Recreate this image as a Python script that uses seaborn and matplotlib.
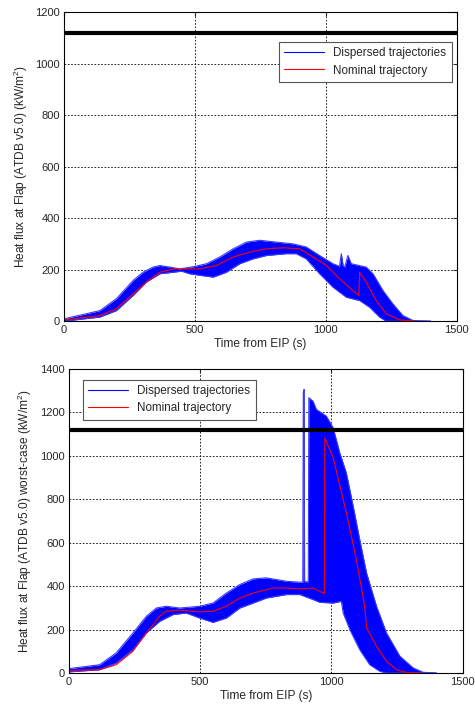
import numpy as np
import pandas as pd
import matplotlib
matplotlib.use('Agg')
import matplotlib.pyplot as plt
import seaborn as sns
from matplotlib.lines import Line2D

# nominal trajectory, top panel
t_nom1 = [0, 137, 200, 264, 315, 366, 417, 519, 582, 646, 709, 773, 836, 900, 951,
          1002, 1052, 1103, 1126, 1129, 1154, 1192, 1230, 1281, 1340]
q_nom1 = [5, 22, 48, 106, 152, 190, 203, 203, 216, 249, 268, 281, 285, 281, 249,
          216, 165, 119, 100, 190, 152, 80, 29, 5, 0]

# dispersed envelope, top panel
t_up1 = [0, 137, 200, 264, 302, 340, 366, 404, 442, 497, 544, 595, 646, 697, 747, 811,
         875, 925, 976, 1027, 1052, 1059, 1066, 1072, 1084, 1097, 1154, 1180, 1218, 1256,
         1294, 1332, 1400]
q_up1 = [9, 41, 87, 158, 190, 210, 216, 210, 203, 212, 223, 249, 281, 307, 314, 307,
         300, 288, 255, 223, 213, 262, 215, 210, 255, 223, 210, 184, 119, 67,
         22, 3, 0]
t_lo1 = [0, 137, 200, 264, 315, 366, 417, 449, 480, 519, 570, 620, 671, 722, 773, 849,
         887, 925, 976, 1027, 1078, 1129, 1167, 1205, 1230, 1400]
q_lo1 = [0, 16, 41, 100, 152, 184, 190, 194, 184, 178, 171, 190, 223, 242, 255, 262,
         262, 242, 184, 132, 93, 80, 54, 16, 0, 0]

# nominal trajectory, bottom panel (worst-case)
t_nom2 = [0, 117, 180, 244, 295, 346, 371, 422, 498, 549, 600, 651, 702, 778, 829, 880,
          930, 973, 975, 1007, 1057, 1095, 1127, 1134, 1172, 1210, 1248, 1286, 1340]
q_nom2 = [12, 15, 38, 100, 184, 261, 284, 289, 281, 284, 307, 345, 368, 391, 391, 387,
          391, 365, 1082, 990, 737, 522, 307, 207, 123, 54, 15, 2, 0]

# dispersed envelope, bottom panel
t_up2 = [0, 117, 180, 244, 295, 333, 371, 422, 498, 549, 600, 651, 702, 752, 829, 880,
         891, 893, 896, 898, 912, 914, 930, 943, 981, 1007, 1032, 1057, 1083, 1108,
         1134, 1172, 1210, 1261, 1312, 1350, 1400]
q_up2 = [20, 38, 92, 184, 261, 299, 307, 299, 307, 322, 368, 407, 433, 438, 422, 418,
         418, 1290, 1305, 420, 420, 1267, 1251, 1213, 1182, 1128, 1013, 921, 768, 614,
         460, 307, 184, 77, 23, 3, 0]
t_lo2 = [0, 117, 180, 244, 295, 346, 397, 447, 498, 549, 600, 651, 702, 752, 829, 880,
         930, 956, 1007, 1038, 1045, 1070, 1108, 1146, 1184, 1210, 1400]
q_lo2 = [5, 15, 46, 107, 184, 238, 269, 276, 253, 233, 253, 299, 322, 345, 361, 361,
         338, 325, 322, 330, 276, 200, 107, 38, 8, 0, 0]

q_limit = 1120

sns.set_style('white')
plt.rcParams['font.family'] = ['Liberation Sans', 'DejaVu Sans']
plt.rcParams['mathtext.default'] = 'regular'

fig = plt.figure(figsize=(4.75, 7.09), dpi=100, facecolor='white')
ax1 = fig.add_axes([0.1347, 0.547, 0.827, 0.436])
ax2 = fig.add_axes([0.145, 0.0508, 0.829, 0.429])


def draw(ax, t_up, q_up, t_lo, q_lo, t_nom, q_nom, ymax, ylab, leg_loc, leg_anchor):
    grid = np.union1d(t_up, t_lo)
    up = np.interp(grid, t_up, q_up)
    lo = np.interp(grid, t_lo, q_lo)
    ax.fill_between(grid, lo, up, color='#0000ff', lw=0, zorder=2)
    ax.plot(t_up, q_up, color='#3a3aff', lw=0.8, zorder=2)
    ax.plot(t_lo, q_lo, color='#3a3aff', lw=0.8, zorder=2)
    nom = pd.DataFrame({'t': t_nom, 'q': q_nom})
    sns.lineplot(data=nom, x='t', y='q', color='red', lw=0.8, ax=ax, sort=False, zorder=3)
    ax.axhline(q_limit, color='black', lw=3, zorder=5)
    ax.set_xlim(0, 1500)
    ax.set_ylim(0, ymax)
    ax.set_xticks([0, 500, 1000, 1500])
    ax.set_yticks(np.arange(0, ymax + 1, 200))
    ax.grid(True, color='black', linestyle=(0, (2, 2)), lw=0.6)
    ax.set_axisbelow(True)
    ax.tick_params(direction='in', length=3, top=True, right=True, labelsize=8, pad=3)
    for s in ax.spines.values():
        s.set_color('black')
        s.set_linewidth(0.8)
        s.set_zorder(6)
    ax.set_xlabel('Time from EIP (s)', fontsize=8.6, labelpad=2)
    ax.set_ylabel(ylab, fontsize=8.6, labelpad=4)
    handles = [Line2D([], [], color='#0000ff', lw=0.8), Line2D([], [], color='red', lw=0.8)]
    leg = ax.legend(handles, ['Dispersed trajectories', 'Nominal trajectory'],
                    loc=leg_loc, bbox_to_anchor=leg_anchor, borderaxespad=0,
                    fancybox=False, framealpha=1, edgecolor='#555555', fontsize=8.4,
                    handlelength=3.4, labelspacing=0.45, borderpad=0.45)
    leg.get_frame().set_linewidth(0.8)
    leg.set_zorder(10)


draw(ax1, t_up1, q_up1, t_lo1, q_lo1, t_nom1, q_nom1, 1200,
     'Heat flux at Flap (ATDB v5.0) (kW/m$^2$)', 'upper right', (0.987, 0.903))
draw(ax2, t_up2, q_up2, t_lo2, q_lo2, t_nom2, q_nom2, 1400,
     'Heat flux at Flap (ATDB v5.0) worst-case (kW/m$^2$)', 'upper left', (0.036, 0.964))

fig.savefig('out.png', dpi=100, facecolor='white')
